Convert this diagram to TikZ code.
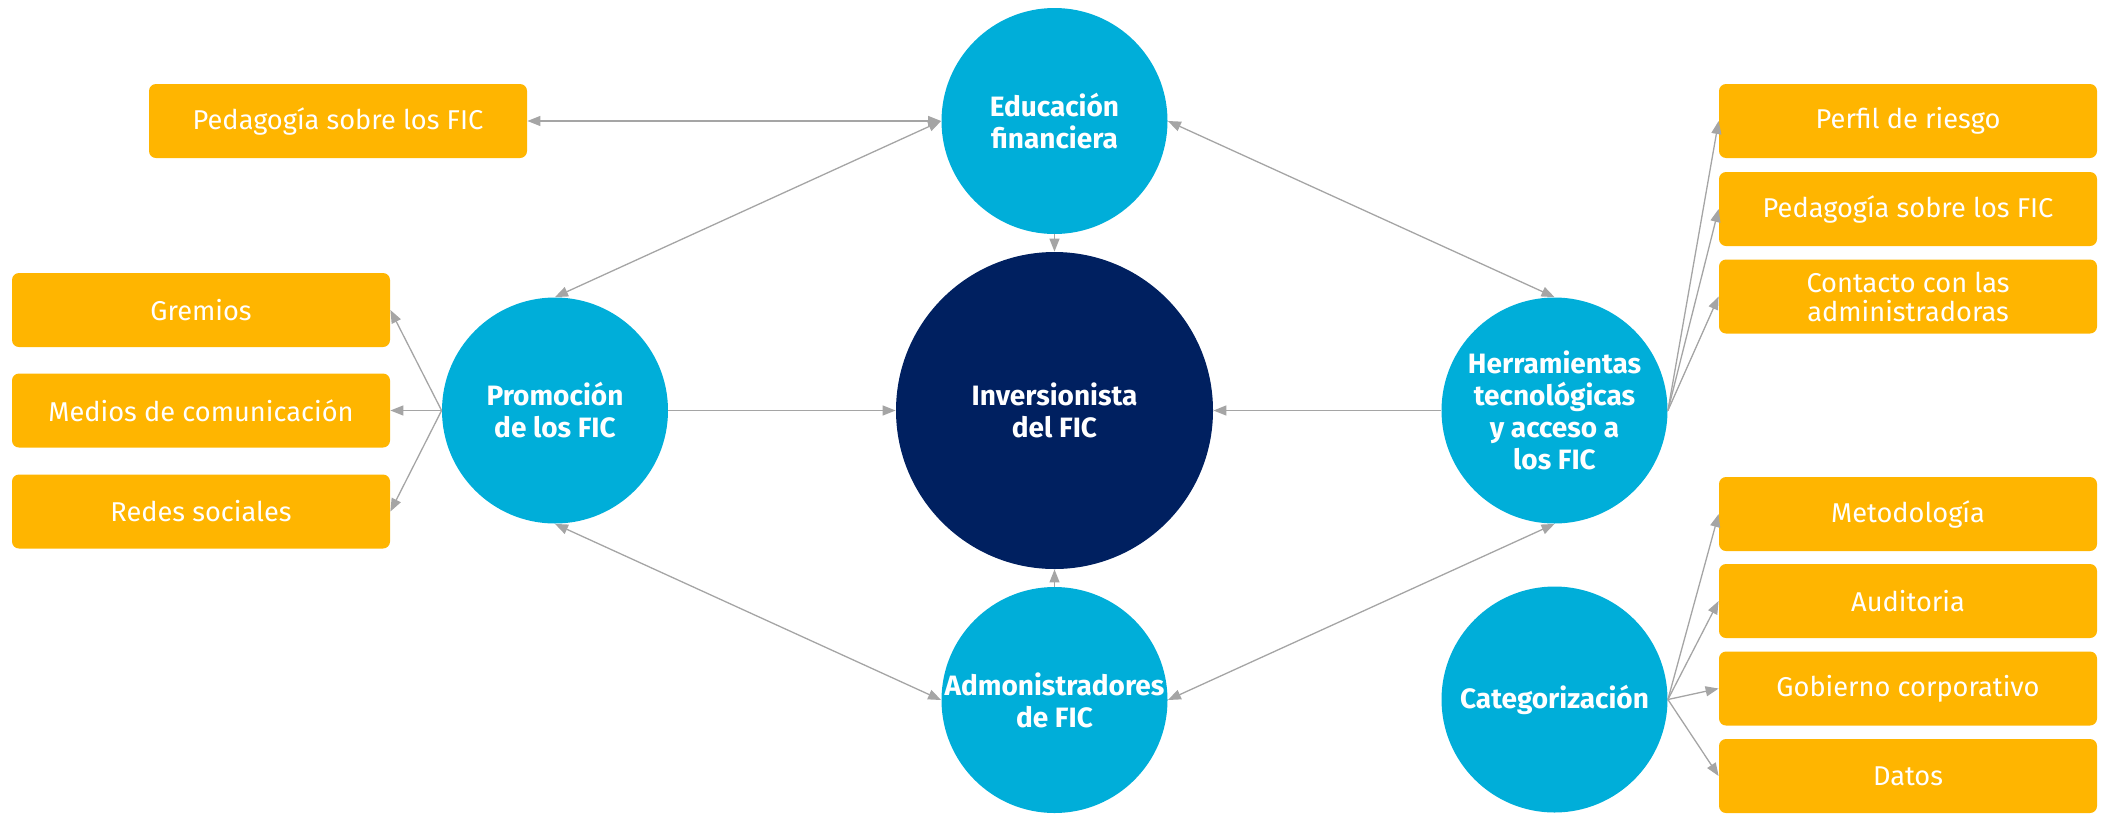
\documentclass[tikz,border=0pt]{standalone}
\usepackage{fontspec}
\setmainfont{Fira Sans}
\usetikzlibrary{arrows.meta}
\definecolor{cblue}{RGB}{0,174,217}
\definecolor{cnavy}{RGB}{0,32,96}
\definecolor{corange}{RGB}{255,181,0}
\definecolor{cgray}{RGB}{165,165,165}
\begin{document}
\begin{tikzpicture}[x=0.5pt,y=-0.5pt,
  circ/.style={circle,fill=cblue,text=white,font=\bfseries\fontsize{14}{16}\selectfont,align=center,minimum size=113pt,inner sep=0pt},
  bigcirc/.style={circ,fill=cnavy,minimum size=158.5pt},
  lbox/.style={rounded corners=3.5pt,fill=corange,text=white,font=\fontsize{13.6}{14.5}\selectfont,align=center,minimum width=189pt,minimum height=37pt,inner sep=0pt},
  conn/.style={draw=cgray,line width=0.65pt},
  tip/.style={conn,-{Triangle[length=6.5pt,width=5pt]}},
  twotip/.style={conn,{Triangle[length=6.5pt,width=5pt]}-{Triangle[length=6.5pt,width=5pt]}}
]
\useasboundingbox (0,0) rectangle (2108,815);

% circles
\node[circ] (edu) at (1054.5,121) {Educación\\financiera};
\node[bigcirc] (inv) at (1054.5,410.5) {Inversionista\\del FIC};
\node[circ] (pro) at (555,410.5) {Promoción\\de los FIC};
\node[circ] (adm) at (1054.5,700) {Admonistradores\\de FIC};
\node[circ] (her) at (1554.5,410.5) {Herramientas\\tecnológicas\\y acceso a\\los FIC};
\node[circ] (cat) at (1554.5,699.5) {Categorización};

% left boxes
\node[lbox] (ped) at (338,121) {Pedagogía sobre los FIC};
\node[lbox] (gre) at (201,310) {Gremios};
\node[lbox] (med) at (201,410.5) {Medios de comunicación};
\node[lbox] (red) at (201,511.5) {Redes sociales};

% right boxes
\node[lbox] (per) at (1908,121) {Perfil de riesgo};
\node[lbox] (ped2) at (1908,209) {Pedagogía sobre los FIC};
\node[lbox] (con) at (1908,296.5) {Contacto con las\\administradoras};
\node[lbox] (met) at (1908,514) {Metodología};
\node[lbox] (aud) at (1908,601) {Auditoria};
\node[lbox] (gob) at (1908,688.5) {Gobierno corporativo};
\node[lbox] (dat) at (1908,776) {Datos};

% connectors
\draw[twotip] (ped.east) -- (edu.west);
\draw[twotip] (edu.west) -- (pro.north);
\draw[twotip] (edu.east) -- (her.north);
\draw[twotip] (pro.south) -- (adm.west);
\draw[twotip] (her.south) -- (adm.east);
\draw[tip] (edu.south) -- (inv.north);
\draw[tip] (adm.north) -- (inv.south);
\draw[tip] (pro.east) -- (inv.west);
\draw[tip] (her.west) -- (inv.east);

\draw[tip] (pro.west) -- (gre.east);
\draw[tip] (pro.west) -- (med.east);
\draw[tip] (pro.west) -- (red.east);

\draw[tip] (her.east) -- (per.west);
\draw[tip] (her.east) -- (ped2.west);
\draw[tip] (her.east) -- (con.west);

\draw[tip] (cat.east) -- (met.west);
\draw[tip] (cat.east) -- (aud.west);
\draw[tip] (cat.east) -- (gob.west);
\draw[tip] (cat.east) -- (dat.west);
\end{tikzpicture}
\end{document}
